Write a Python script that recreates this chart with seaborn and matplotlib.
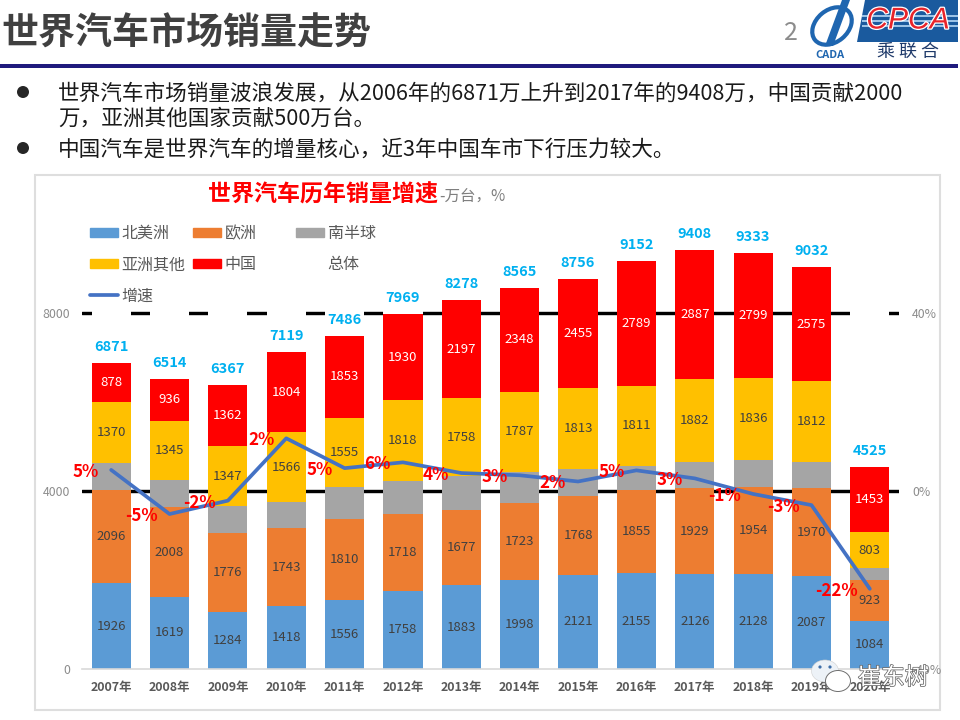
import numpy as np
import matplotlib
matplotlib.use("Agg")
import matplotlib.pyplot as plt
import matplotlib.patheffects as pe
from matplotlib.lines import Line2D
from matplotlib.patches import Patch, Rectangle, Ellipse, Polygon
import seaborn as sns

years = ["2007年","2008年","2009年","2010年","2011年","2012年","2013年","2014年","2015年","2016年","2017年","2018年","2019年","2020年"]
north = [1926,1619,1284,1418,1556,1758,1883,1998,2121,2155,2126,2128,2087,1084]
europe = [2096,2008,1776,1743,1810,1718,1677,1723,1768,1855,1929,1954,1970,923]
south = [601,606,598,588,712,745,763,709,599,542,584,616,588,262]
asia = [1370,1345,1347,1566,1555,1818,1758,1787,1813,1811,1882,1836,1812,803]
china = [878,936,1362,1804,1853,1930,2197,2348,2455,2789,2887,2799,2575,1453]
total = [6871,6514,6367,7119,7486,7969,8278,8565,8756,9152,9408,9333,9032,4525]
growth = [4.7,-5.2,-2.2,11.8,5.1,6.4,4.0,3.5,2.1,4.6,2.8,-0.7,-3.2,-22.0]
growth_labels = ["5%","-5%","-2%","2%","5%","6%","4%","3%","2%","5%","3%","-1%","-3%","-22%"]
series_names = ["北美洲","欧洲","南半球","亚洲其他","中国"]
series_colors = ["#5B9BD5","#ED7D31","#A5A5A5","#FFC000","#FF0000"]
label_colors = ["#404040","#404040",None,"#404040","white"]
title_text = "世界汽车市场销量走势"
bullets = ["世界汽车市场销量波浪发展，从2006年的6871万上升到2017年的9408万，中国贡献2000",
           "万，亚洲其他国家贡献500万台。",
           "中国汽车是世界汽车的增量核心，近3年中国车市下行压力较大。"]

sns.set_theme(style="white")
plt.rcParams["font.family"] = ["Noto Sans CJK SC", "DejaVu Sans"]
W, H = 960, 720
fig = plt.figure(figsize=(9.6, 7.2), dpi=100, facecolor="white")
PX = 72 / 100

# page furniture in pixel coordinates
bg = fig.add_axes([0, 0, 1, 1], zorder=0)
bg.set_xlim(0, W); bg.set_ylim(H, 0); bg.axis("off")
bg.text(1, 34, title_text, fontsize=37*PX, fontweight="bold", color="#404040", va="center", ha="left")
bg.add_patch(Rectangle((0, 64), 958, 4, color="#1F1A7D", lw=0))
bg.text(791, 33, "2", fontsize=25*PX, color="#8C8C8C", va="center", ha="center")
# logos
bg.add_patch(Polygon([[865, 0], [958, 0], [958, 42], [857, 42]], color="#1A5A9E", lw=0))
for yy, hh in ((15, 1.5), (20, 1.5), (25, 1.5)):
    bg.add_patch(Rectangle((862, yy), 96, hh, color="#9CC3E6", lw=0))
bg.text(908, 20.5, "CPCA", fontsize=30*PX, fontstyle="italic", color="#E8242A", family="Liberation Sans",
        va="center", ha="center", path_effects=[pe.withStroke(linewidth=1.8, foreground="white")])
bg.text(908, 52, "乘 联 合", fontsize=18*PX, color="#1F3A6A", va="center", ha="center")
bg.add_patch(Ellipse((832, 26), 44, 32, angle=-40, fill=False, ec="#1F66B0", lw=3))
bg.add_patch(Polygon([[842, 0], [850, 0], [833, 46], [825, 46]], color="#1F66B0", lw=0))
bg.text(830, 55.5, "CADA", fontsize=11*PX, fontweight="bold", fontstyle="italic", color="#1F66B0", va="center", ha="center")
# bullets
for yy in (92, 148):
    bg.add_patch(Ellipse((23, yy), 12, 12, color="#262626", lw=0))
for yy, t in zip((94, 119, 150), bullets):
    bg.text(58, yy, t, fontsize=21.6*PX, color="#1A1A1A", va="center", ha="left")
# chart frame
bg.add_patch(Rectangle((35, 175), 905, 535, fc="white", ec="#DEDEDE", lw=1.5))

# chart
ax_top_px, ax_bot_px, ax_l, ax_r = 178, 669, 82, 899
ax = fig.add_axes([ax_l/W, (H-ax_bot_px)/H, (ax_r-ax_l)/W, (ax_bot_px-ax_top_px)/H], zorder=1)
ax.patch.set_alpha(0)
ymax = (ax_bot_px-ax_top_px) / (356.3/8000)
for level in (4000, 8000):
    ax.axhline(level, color="black", lw=3.4*PX, zorder=1)

series = [north, europe, south, asia, china]
base = np.zeros(len(years))
for vals, name, col, lc in zip(series, series_names, series_colors, label_colors):
    vals = np.array(vals, dtype=float)
    sns.barplot(x=years, y=vals, bottom=base, color=col, saturation=1, width=0.67, ax=ax, zorder=2, linewidth=0)
    if lc:
        for i, v in enumerate(vals):
            ax.text(i, base[i]+v/2, f"{int(v)}", ha="center", va="center", fontsize=13.2*PX, color=lc, zorder=5)
    base = base + vals
# hidden "总体" series: a white stacked bar that masks the grid lines and carries the total labels
sns.barplot(x=years, y=total, bottom=base, color="white", saturation=1, width=0.67, ax=ax, zorder=2, linewidth=0)
for i, v in enumerate(total):
    ax.annotate(f"{v}", (i, base[i]), xytext=(0, 16*PX), textcoords="offset points", ha="center", va="center",
                fontsize=14.5*PX, fontweight="bold", color="#00B0F0", zorder=5)

ax.set_xlim(-0.5, len(years)-0.5)
ax.set_ylim(0, ymax)
ax.set_yticks([0, 4000, 8000])
ax.set_yticklabels(["0", "4000", "8000"], fontsize=12.3*PX, color="#8C8C8C")
ax.tick_params(axis="y", length=0, pad=12*PX)
ax.tick_params(axis="x", length=0, pad=12*PX)
for lab in ax.get_xticklabels():
    lab.set_fontsize(12.4*PX); lab.set_fontweight("bold"); lab.set_color("#595959")
ax.set_xlabel(""); ax.set_ylabel("")
for s in ("top", "left", "right"):
    ax.spines[s].set_visible(False)
ax.spines["bottom"].set_color("#D9D9D9"); ax.spines["bottom"].set_linewidth(1.2)
ax.spines["bottom"].set_zorder(3)

ax2 = ax.twinx()
ax2.patch.set_alpha(0)
sns.lineplot(x=np.arange(len(years)), y=growth, color="#4472C4", lw=3.7*PX, ax=ax2, zorder=4, errorbar=None)
ax2.set_ylim(-40, -40 + ymax/100)
ax2.set_yticks([-40, 0, 40])
ax2.set_yticklabels(["-40%", "0%", "40%"], fontsize=12.3*PX, color="#8C8C8C")
ax2.tick_params(axis="y", length=0, pad=13*PX)
ax2.set_ylabel("")
for s in ax2.spines.values():
    s.set_visible(False)
for i, (g, t) in enumerate(zip(growth, growth_labels)):
    ax2.annotate(t, (i, g), xytext=(-12*PX, -2*PX), textcoords="offset points", ha="right", va="center",
                 fontsize=17*PX, fontweight="bold", color="#FF0000", zorder=6)

# legend
handles = [Patch(color=series_colors[0]), Patch(color=series_colors[3]),
           Line2D([], [], color="#4472C4", lw=3.7*PX),
           Patch(color=series_colors[1]), Patch(color=series_colors[4]), Line2D([], [], color="none"),
           Patch(color=series_colors[2]), Patch(color="none")]
labels = [series_names[0], series_names[3], "增速", series_names[1], series_names[4], "　　　　", series_names[2], "总体"]
leg = ax2.legend(handles, labels, ncols=3, loc="upper left", bbox_to_anchor=(90/W, (H-225)/H),
                 bbox_transform=fig.transFigure, frameon=False, fontsize=16*PX,
                 handlelength=1.75, handleheight=0.45, handletextpad=0.22, columnspacing=0.47,
                 labelspacing=0.89, borderpad=0, borderaxespad=0)
for t in leg.get_texts():
    t.set_color("#595959")

# chart title and watermark on top of the masking bars
top = fig.add_axes([0, 0, 1, 1], zorder=3)
top.set_xlim(0, W); top.set_ylim(H, 0); top.axis("off"); top.patch.set_alpha(0)
top.text(208, 195, "世界汽车历年销量增速", fontsize=23*PX, fontweight="bold", color="#FF0000", va="center", ha="left")
top.text(439, 196, "-万台，%", fontsize=15.5*PX, color="#7F7F7F", va="center", ha="left")
top.add_patch(Ellipse((825, 671), 27, 22, fc="#EDF2F7", ec="#D0D0D0", lw=0.4))
top.add_patch(Ellipse((820, 667), 3.2, 3.2, fc="#3F6FA8", ec="none"))
top.add_patch(Ellipse((830, 667), 3.2, 3.2, fc="#3F6FA8", ec="none"))
top.add_patch(Ellipse((838, 681), 25, 21, fc="white", ec="#6E6E6E", lw=0.7))
top.text(893, 678, "崔东树", fontsize=23.5*PX, color="white", ha="center", va="center",
         path_effects=[pe.withStroke(linewidth=1.0, foreground="#5A5A5A")])

fig.savefig("out.png", dpi=100)
